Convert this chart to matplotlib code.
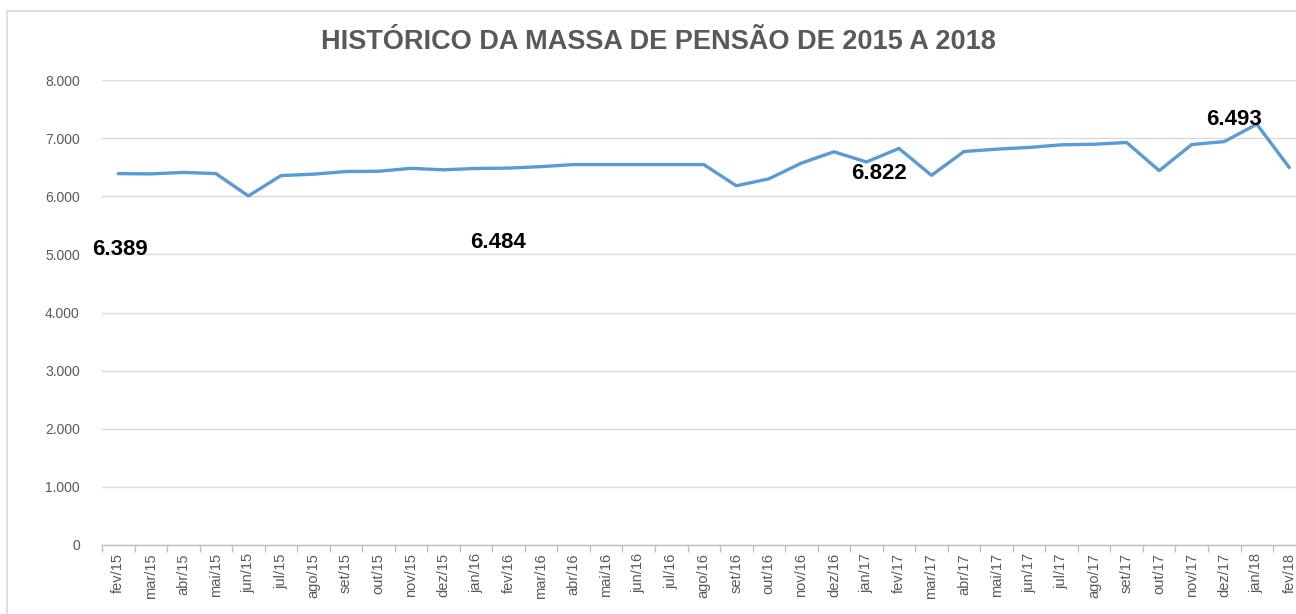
import numpy as np
import matplotlib
matplotlib.use("Agg")
import matplotlib.pyplot as plt
from matplotlib.patches import Rectangle
from matplotlib.ticker import FuncFormatter

plt.rcParams['font.family'] = ['Liberation Sans', 'DejaVu Sans']

# Months fev/15 .. fev/18
months = ['fev/15', 'mar/15', 'abr/15', 'mai/15', 'jun/15', 'jul/15', 'ago/15', 'set/15',
          'out/15', 'nov/15', 'dez/15', 'jan/16', 'fev/16', 'mar/16', 'abr/16', 'mai/16',
          'jun/16', 'jul/16', 'ago/16', 'set/16', 'out/16', 'nov/16', 'dez/16', 'jan/17',
          'fev/17', 'mar/17', 'abr/17', 'mai/17', 'jun/17', 'jul/17', 'ago/17', 'set/17',
          'out/17', 'nov/17', 'dez/17', 'jan/18', 'fev/18']

# Pension mass (estimated from the chart)
massa = [6389, 6385, 6410, 6390, 6005, 6355, 6380, 6425, 6430, 6480, 6455, 6478,
         6484, 6510, 6545, 6545, 6545, 6545, 6545, 6180, 6300, 6570, 6765, 6590,
         6822, 6360, 6770, 6810, 6840, 6885, 6895, 6925, 6440, 6890, 6940, 7240,
         6493]

# Data labels shown in the chart (index into months, text)
label_idx = [0, 12, 24, 36]
label_txt = ['6.389', '6.484', '6.822', '6.493']
# pixel offsets of each label from its point (Excel moved them around)
label_off = [(2, -76), (-11, -74), (-20, -25), (-55, 48)]

yticks = [0, 1000, 2000, 3000, 4000, 5000, 6000, 7000, 8000]

W, H = 1296, 614
fig = plt.figure(figsize=(W / 100, H / 100), dpi=100)

# chart border
fig.patches.append(Rectangle((7 / W, -0.1), 1.2, (H - 11) / H + 0.1,
                             transform=fig.transFigure, fill=False,
                             edgecolor='#D9D9D9', linewidth=1.2))

ax = fig.add_axes([102 / W, (H - 545) / H, 1203.6 / W, (545 - 80) / H])

x = np.arange(len(months))
ax.plot(x, massa, color='#5B9BD5', linewidth=2.4, solid_joinstyle='round',
        solid_capstyle='round', zorder=3)

for i, t, (dx, dy) in zip(label_idx, label_txt, label_off):
    ax.annotate(t, (x[i], massa[i]), xytext=(dx * 0.72, dy * 0.72),
                textcoords='offset points', ha='center', va='center',
                fontsize=16, fontweight='bold', color='black', zorder=4)

ax.set_xlim(-0.5, len(months) - 0.5)
ax.set_ylim(0, 8000)
ax.set_yticks(yticks)
ax.yaxis.set_major_formatter(FuncFormatter(lambda v, p: f'{int(v):,}'.replace(',', '.')))
ax.grid(axis='y', color='#D9D9D9', linewidth=1)
ax.set_axisbelow(True)

ax.set_xticks(x)
ax.set_xticklabels(months, rotation=90, fontsize=10.5, color='#595959')
ax.set_xticks(np.arange(len(months) + 1) - 0.5, minor=True)
ax.tick_params(axis='x', which='major', length=0, pad=6)
ax.tick_params(axis='x', which='minor', length=5, color='#BFBFBF', width=1)
ax.tick_params(axis='y', length=0, pad=16, labelsize=10, labelcolor='#595959')

for s in ['top', 'right', 'left']:
    ax.spines[s].set_visible(False)
ax.spines['bottom'].set_color('#BFBFBF')
ax.spines['bottom'].set_linewidth(1)

fig.text(658 / W, (H - 42) / H, 'HISTÓRICO DA MASSA DE PENSÃO DE 2015 A 2018',
         ha='center', va='center', fontsize=19.5, fontweight='bold', color='#595959')

fig.savefig('out.png', dpi=100)
